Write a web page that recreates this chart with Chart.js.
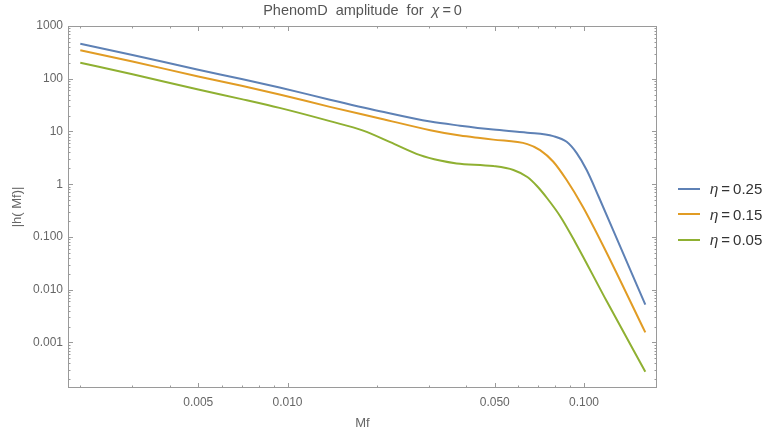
<!DOCTYPE html>
<html>
<head>
<meta charset="utf-8">
<script src="https://cdn.jsdelivr.net/npm/chart.js@4.4.1/dist/chart.umd.min.js"></script>
<style>
  body { margin: 0; background: #fff; font-family: 'Liberation Sans', Arial, sans-serif; }
  #wrap { position: relative; width: 768px; height: 434px; }
  #title { position: absolute; top: 2px; left: 0; width: 725px; text-align: center; font-size: 14.5px; color: #555; white-space: pre; }
  #legend { position: absolute; left: 678px; top: 176px; font-size: 15px; color: #333; }
  .item { height: 25.5px; display: flex; align-items: center; white-space: pre; }
  .swatch { width: 22px; height: 2px; margin-right: 10px; }
</style>
</head>
<body>
<div id="wrap">
  <canvas id="ampChart" width="768" height="434"></canvas>
  <div id="title">PhenomD  amplitude  for  <i>χ</i>&thinsp;=&thinsp;0</div>
  <div id="legend"></div>
</div>
<script>
// PhenomD amplitude |h(Mf)| for three mass ratios

const mfEta025 = [0.002, 0.003, 0.005, 0.007, 0.0094, 0.0139, 0.0205, 0.0303, 0.0382, 0.0494, 0.0644, 0.0788, 0.0874, 0.0945, 0.1021, 0.1122, 0.1322, 0.161];
const ampEta025 = [460, 283, 148, 99, 68.2, 40.1, 24.3, 15.4, 12.9, 10.9, 9.51, 8.17, 6.37, 3.89, 1.86, 0.573, 0.0676, 0.0052];

const mfEta015 = [0.002, 0.003, 0.005, 0.007, 0.0094, 0.0139, 0.0205, 0.0303, 0.0382, 0.0446, 0.0494, 0.0644, 0.0711, 0.0788, 0.0874, 0.0991, 0.1166, 0.161];
const ampEta015 = [348, 213, 110, 73.4, 50.3, 29.3, 17.7, 10.6, 8.36, 7.49, 7.01, 5.77, 4.44, 2.67, 1.20, 0.375, 0.0647, 0.00155];

const mfEta005 = [0.002, 0.003, 0.005, 0.007, 0.0094, 0.0139, 0.018, 0.0222, 0.028, 0.0327, 0.0372, 0.0494, 0.0578, 0.0644, 0.0694, 0.075, 0.083, 0.0933, 0.1196, 0.161];
const ampEta005 = [201, 122, 62.3, 41.1, 28.0, 15.7, 10.4, 6.29, 3.57, 2.81, 2.48, 2.21, 1.86, 1.37, 0.925, 0.548, 0.250, 0.0805, 0.00589, 0.000279];

const seriesLabels = ['0.25', '0.15', '0.05'];
const seriesColors = ['#5e81b5', '#e19c24', '#8fb032'];

const xTickValues = [0.005, 0.01, 0.05, 0.1];
const xTickLabels = ['0.005', '0.010', '0.050', '0.100'];
const yTickValues = [0.001, 0.01, 0.1, 1, 10, 100, 1000];
const yTickLabels = ['0.001', '0.010', '0.100', '1', '10', '100', '1000'];

function toPoints(xs, ys) {
  return xs.map((x, i) => ({ x: x, y: ys[i] }));
}

const allSeries = [toPoints(mfEta025, ampEta025), toPoints(mfEta015, ampEta015), toPoints(mfEta005, ampEta005)];

// Mathematica-style frame with inward ticks on all four sides
const frameTicks = {
  id: 'frameTicks',
  afterDraw(chart) {
    const { ctx, chartArea: a, scales: { x, y } } = chart;
    ctx.save();
    ctx.strokeStyle = '#9a9a9a';
    ctx.lineWidth = 1;
    ctx.strokeRect(a.left + 0.5, a.top + 0.5, a.right - a.left - 1, a.bottom - a.top - 1);

    function logSteps(scale) {
      const out = [];
      for (let e = Math.floor(Math.log10(scale.min)); e <= Math.ceil(Math.log10(scale.max)); e++) {
        for (let m = 1; m <= 9; m++) {
          const v = m * Math.pow(10, e);
          if (v >= scale.min && v <= scale.max) out.push(v);
        }
      }
      return out;
    }

    ctx.beginPath();
    logSteps(x).forEach(v => {
      const major = xTickValues.some(t => Math.abs(t - v) < v * 1e-6);
      const len = major ? 5 : 2.5;
      const px = Math.round(x.getPixelForValue(v)) + 0.5;
      ctx.moveTo(px, a.bottom); ctx.lineTo(px, a.bottom - len);
      ctx.moveTo(px, a.top); ctx.lineTo(px, a.top + len);
    });
    logSteps(y).forEach(v => {
      const major = yTickValues.some(t => Math.abs(t - v) < v * 1e-6);
      const len = major ? 5 : 2.5;
      const py = Math.round(y.getPixelForValue(v)) + 0.5;
      ctx.moveTo(a.left, py); ctx.lineTo(a.left + len, py);
      ctx.moveTo(a.right, py); ctx.lineTo(a.right - len, py);
    });
    ctx.stroke();
    ctx.restore();
  }
};

new Chart(document.getElementById('ampChart'), {
  type: 'line',
  data: {
    datasets: allSeries.map((pts, i) => ({
      label: 'η=' + seriesLabels[i],
      data: pts,
      borderColor: seriesColors[i],
      backgroundColor: seriesColors[i],
      borderWidth: 2,
      pointRadius: 0,
      fill: false,
      cubicInterpolationMode: 'monotone'
    }))
  },
  options: {
    responsive: false,
    devicePixelRatio: 1,
    animation: false,
    layout: { padding: { top: 26, right: 111 } },
    plugins: { legend: { display: false }, tooltip: { enabled: false } },
    scales: {
      x: {
        type: 'logarithmic',
        min: 0.001818,
        max: 0.1763,
        grid: { display: false, drawTicks: false },
        border: { display: false },
        afterBuildTicks: s => { s.ticks = xTickValues.map(v => ({ value: v })); },
        afterFit: s => { s.height = 46; },
        ticks: {
          color: '#666',
          font: { size: 12 },
          padding: 7,
          autoSkip: false,
          maxRotation: 0,
          callback: (v, i) => xTickLabels[i]
        },
        title: { display: true, text: 'Mf', color: '#666', font: { size: 13 }, padding: { top: 0, bottom: 3 } }
      },
      y: {
        type: 'logarithmic',
        min: 1.37e-4,
        max: 1000,
        grid: { display: false, drawTicks: false },
        border: { display: false },
        afterBuildTicks: s => { s.ticks = yTickValues.map(v => ({ value: v })); },
        afterFit: s => { s.width = 68; },
        ticks: {
          color: '#666',
          font: { size: 12 },
          padding: 5,
          autoSkip: false,
          callback: (v, i) => yTickLabels[i]
        },
        title: { display: true, text: '|h( Mf)|', color: '#666', font: { size: 13 }, padding: { top: 10 } }
      }
    }
  },
  plugins: [frameTicks]
});

// legend drawn beside the plot, as in the original figure
const legend = document.getElementById('legend');
seriesLabels.forEach((lab, i) => {
  const row = document.createElement('div');
  row.className = 'item';
  row.innerHTML = '<span class="swatch" style="background:' + seriesColors[i] + '"></span><i>η</i>&thinsp;=&thinsp;' + lab;
  legend.appendChild(row);
});
</script>
</body>
</html>
